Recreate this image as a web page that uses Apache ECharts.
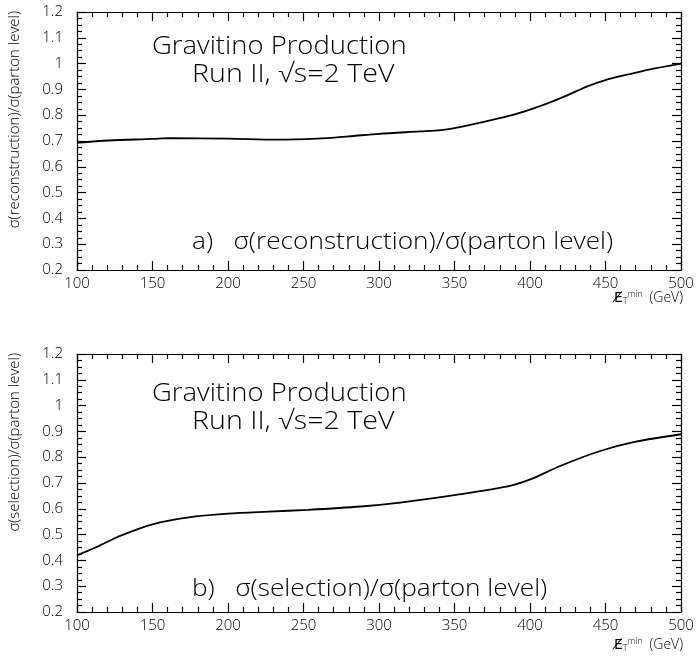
<!DOCTYPE html>
<html>
<head>
<meta charset="utf-8">
<script src="https://cdn.jsdelivr.net/npm/echarts@6/dist/echarts.min.js"></script>
<style>
  html, body { margin: 0; padding: 0; background: #fff; }
  #chart { width: 696px; height: 665px; }
</style>
</head>
<body>
<div id="chart"></div>
<script>
// Missing-ET threshold (GeV) and efficiency ratios for the two panels
const etMinReco = [100, 121, 150, 161, 200, 232, 259, 280, 300, 327, 341, 350, 367, 386, 400, 412, 425, 438, 450, 465, 478, 500];
const ratioReco = [0.693, 0.702, 0.708, 0.711, 0.709, 0.705, 0.709, 0.718, 0.728, 0.737, 0.742, 0.750, 0.771, 0.797, 0.822, 0.847, 0.878, 0.912, 0.936, 0.958, 0.976, 1.000];

const etMinSel = [100, 113, 129, 150, 174, 200, 227, 253, 288, 314, 350, 386, 401, 420, 446, 470, 500];
const ratioSel = [0.420, 0.452, 0.496, 0.540, 0.567, 0.581, 0.589, 0.596, 0.609, 0.624, 0.653, 0.688, 0.716, 0.766, 0.823, 0.860, 0.889];

const xTicks = [100, 150, 200, 250, 300, 350, 400, 450, 500];
const yTicks = [0.2, 0.3, 0.4, 0.5, 0.6, 0.7, 0.8, 0.9, 1, 1.1, 1.2];

const FONT = '"Open Sans", "Liberation Sans", sans-serif';

const panels = [
  { top: 12, shift: 0, label: 'a)   σ(reconstruction)/σ(parton level)', yName: 'σ(reconstruction)/σ(parton level)', x: etMinReco, y: ratioReco },
  { top: 354, shift: 5, label: 'b)   σ(selection)/σ(parton level)', yName: 'σ(selection)/σ(parton level)', x: etMinSel, y: ratioSel }
];
const GRID_LEFT = 77, GRID_W = 604, GRID_H = 258;

const grids = [], xAxes = [], yAxes = [], series = [], graphics = [];

panels.forEach((p, i) => {
  grids.push({ left: GRID_LEFT, top: p.top, width: GRID_W, height: GRID_H,
               containLabel: false, outerBoundsMode: 'none' });

  const lineStyle = { color: '#000', width: 1.2 };
  const common = {
    type: 'value', gridIndex: i, splitLine: { show: false },
    axisLine: { show: true, onZero: false, lineStyle }
  };
  // bottom axis with labels
  xAxes.push(Object.assign({}, common, {
    position: 'bottom', min: xTicks[0], max: xTicks[xTicks.length - 1], interval: 50,
    axisTick: { inside: true, length: 9, lineStyle },
    minorTick: { show: true, splitNumber: 5, length: 5, lineStyle },
    axisLabel: { show: true, color: '#000', fontFamily: FONT, fontWeight: 300, fontSize: 15, margin: 6,
                 formatter: v => String(v) }
  }));
  // top mirror axis (ticks only)
  xAxes.push(Object.assign({}, common, {
    position: 'top', min: xTicks[0], max: xTicks[xTicks.length - 1], interval: 50,
    axisTick: { inside: true, length: 9, lineStyle },
    minorTick: { show: true, splitNumber: 5, length: 5, lineStyle },
    axisLabel: { show: false }
  }));
  // left axis with labels
  yAxes.push(Object.assign({}, common, {
    position: 'left', min: yTicks[0], max: yTicks[yTicks.length - 1], interval: 0.1,
    axisTick: { inside: true, length: 9, lineStyle },
    minorTick: { show: true, splitNumber: 4, length: 5, lineStyle },
    axisLabel: { show: true, color: '#000', fontFamily: FONT, fontWeight: 300, fontSize: 15, margin: 14,
                 formatter: v => String(Math.round(v * 10) / 10) }
  }));
  // right mirror axis (ticks only)
  yAxes.push(Object.assign({}, common, {
    position: 'right', min: yTicks[0], max: yTicks[yTicks.length - 1], interval: 0.1,
    axisTick: { inside: true, length: 9, lineStyle },
    minorTick: { show: true, splitNumber: 4, length: 5, lineStyle },
    axisLabel: { show: false }
  }));

  series.push({
    type: 'line', xAxisIndex: 2 * i, yAxisIndex: 2 * i,
    data: p.x.map((v, k) => [v, p.y[k]]),
    smooth: 0.3, showSymbol: false, symbol: 'none',
    lineStyle: { color: '#000', width: 1.8 }, silent: true, animation: false
  });

  // plain text annotations, widened horizontally like the plotting package's stroke font
  const txt = (x, y, text, size, sx) => ({
    type: 'text', x, y, scaleX: sx, silent: true,
    style: { text, fill: '#000', font: '300 ' + size + 'px ' + FONT, verticalAlign: 'middle', align: 'left' }
  });
  graphics.push(txt(152, p.top + 35 + p.shift, 'Gravitino Production', 26, 1.055));
  graphics.push(txt(192, p.top + 63 + p.shift, 'Run II, √s=2 TeV', 26, 1.10));
  graphics.push(txt(192, p.top + 230 + p.shift, p.label, 23, 1.14));
  // y-axis title, right-justified at the top of the axis
  graphics.push({
    type: 'text', x: 15, y: p.top - 1, rotation: Math.PI / 2, silent: true,
    style: { text: p.yName, fill: '#000', font: '300 15px ' + FONT, align: 'right', verticalAlign: 'middle' }
  });
  // x-axis title, right-justified under the end of the axis
  graphics.push({
    type: 'text', x: GRID_LEFT + GRID_W + 2, y: p.top + GRID_H + 28 + p.shift, silent: true,
    style: {
      text: '{e|E̸}{t|T}{m|min} (GeV)',
      fill: '#000', font: '300 14px ' + FONT, align: 'right', verticalAlign: 'middle',
      rich: {
        e: { font: '14px "DejaVu Sans", sans-serif', fill: '#000' },
        t: { font: '300 9px ' + FONT, fill: '#000', verticalAlign: 'bottom', padding: [7, 0, 0, 0] },
        m: { font: '300 9px ' + FONT, fill: '#000', verticalAlign: 'top', padding: [0, 3, 7, 0] }
      }
    }
  });
});

const chart = echarts.init(document.getElementById('chart'), null, { renderer: 'canvas' });
chart.setOption({
  animation: false,
  backgroundColor: '#fff',
  grid: grids,
  xAxis: xAxes,
  yAxis: yAxes,
  series: series,
  graphic: graphics
});
</script>
</body>
</html>
